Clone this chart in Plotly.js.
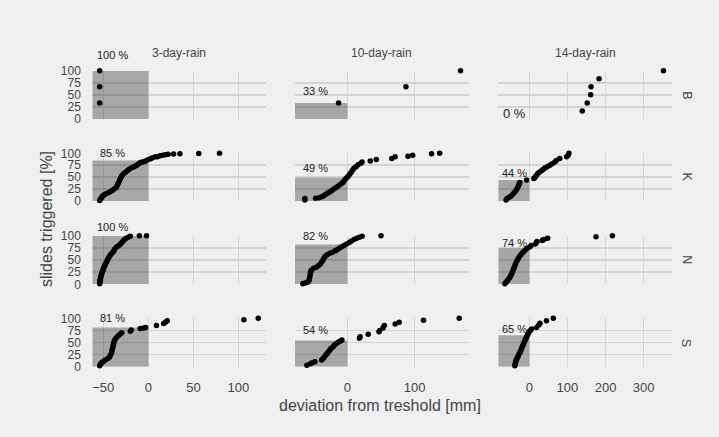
<!DOCTYPE html>
<html><head><meta charset="utf-8">
<script src="https://cdn.plot.ly/plotly-3.0.1.min.js"></script>
<style>html,body{margin:0;padding:0;background:#f0f0f0}</style>
</head><body><div id="chart" style="width:719px;height:437px"></div>
<script>
// ---- data ----
const colNames = ['3-day-rain', '10-day-rain', '14-day-rain'];
const rowNames = ['B', 'K', 'N', 'S'];
const pctTriggered = [[100, 33, 0], [85, 49, 44], [100, 82, 74], [81, 54, 65]];
const xTickStep = [50, 100, 100];
const yTicks = [0, 25, 50, 75, 100];

const B_3_x = [-54, -54, -54];
const B_3_y = [33.3, 66.7, 100];
const B_10_x = [-13, 87, 168];
const B_10_y = [33.3, 66.7, 100];
const B_14_x = [139, 152, 161, 162, 183, 352];
const B_14_y = [16.7, 33.3, 50, 66.7, 83.3, 100];

const K_3_x = [-54,-53,-52,-51,-49,-47,-44,-42,-40,-38,-36,-35,-34,-33,-32,-31,-30,-29,-27,-25,-23,-21,-18,-16,-14,-12,-10,-8,-6,-3,-1,2,4,7,10,13,16,19,22,28,35,56,79];
const K_3_y = [1,4,7,10,13,15,18,20,22,25,28,31,35,39,43,47,51,54,58,61,64,67,70,72,74,76,79,81,82,84,86,88,90,92,93,95,96,97,98,98.5,99,99.5,100];
const K_10_x = [-63,-63,-47,-42,-38,-35,-32,-29,-26,-23,-20,-17,-14,-11,-8,-6,-4,-2,0,2,4,6,8,10,13,16,20,22,34,43,66,71,90,97,125,137];
const K_10_y = [2,5,6,7,9,11,14,17,19,22,25,28,31,34,37,40,44,47,50,53,57,61,65,69,72,76,79,82,84,87,89,93,94,96,99,100];
const K_14_x = [-61,-58,-53,-47,-42,-38,-34,-31,-29,-27,-25,-7,12,14,17,20,23,27,31,36,41,47,54,60,67,71,80,98,102,104];
const K_14_y = [2,5,8,11,15,19,23,27,31,35,39,44,47,49,52,55,58,61,63,66,69,72,75,78,82,85,89,93,96,100];

const N_3_x = [-54,-54,-53.7,-53.4,-53,-52.6,-52.2,-51.7,-51.2,-50.6,-50,-49.4,-48.7,-48,-47.3,-46.5,-45.7,-44.8,-43.8,-42.8,-41.5,-40,-38.5,-37.5,-35.5,-33.5,-31.5,-30,-28.5,-27,-25,-22.5,-20,-10,-2];
const N_3_y = [1,4,7,10,13,16,19,22,25,28,31,34,37,40,43,46,49,52,55,58,62,65,68,72,76,79,82,85,88,91,94,97,99,100,100];
const N_10_x = [-66,-64,-61,-58,-56.5,-56,-55.5,-55,-54.5,-53.5,-50,-46,-43,-40,-38,-36,-34.5,-33,-30,-26,-22,-18,-15,-12,-9,-5,-1,3,6,10,14,18,22,50];
const N_10_y = [1,2,3,5,9,13,17,21,25,29,33,35,38,42,46,50,54,57,61,64,66,69,71,74,77,80,83,86,89,92,95,97,99,100];
const N_14_x = [-64,-61,-58,-55,-52,-49,-47,-45,-43,-41,-39,-37,-35,-32,-29,-26,-22,-18,-14,-10,-5,1,5,16,19,20,34,38,48,175,218];
const N_14_y = [1,4,7,10,13,17,20,24,28,32,36,40,44,49,53,57,61,65,68,71,74,77,80,83,86,88,90,92,95,98,100];

const S_3_x = [-54,-53,-52,-50,-48,-45,-43,-42,-41,-40.5,-40,-39.5,-39,-38.5,-38,-37,-35.5,-33.5,-31.5,-29.5,-20,-19,-9,-5,-3,9,17,19,21,106,122];
const S_3_y = [2,5,8,11,14,17,20,24,28,32,36,40,44,48,52,56,60,64,67,70,73,76,79,80,81,85,89,92,95,97,100];
const S_10_x = [-60,-55,-52,-48,-38,-36,-34,-32,-30,-28,-26,-24,-21,-19,-16,-13,-10,-8,18,19,31,47,48,53,55,71,77,113,166];
const S_10_y = [3,6,8,10,14,17,20,24,27,31,34,38,41,45,48,51,53,55,59,62,67,72,75,80,85,88,92,96,100];
const S_14_x = [-38,-37,-36,-35,-33,-31,-29,-27,-25,-23,-21,-19,-17,-15,-13,-11,-9,-7,-5,-3,0,3,6,19,25,28,45,63];
const S_14_y = [2,5,9,13,16,19,22,26,29,32,36,40,44,47,51,55,58,62,65,68,72,75,78,81,86,90,95,100];

const panelX = [[B_3_x, B_10_x, B_14_x], [K_3_x, K_10_x, K_14_x], [N_3_x, N_10_x, N_14_x], [S_3_x, S_10_x, S_14_x]];
const panelY = [[B_3_y, B_10_y, B_14_y], [K_3_y, K_10_y, K_14_y], [N_3_y, N_10_y, N_14_y], [S_3_y, S_10_y, S_14_y]];

// ---- layout settings (positions) ----
const W = 719, H = 437;
const colPx = [[92.3, 266], [295, 468.7], [498.3, 671.7]];
const rowPx = [[70.7, 119], [153.3, 201], [235.7, 284.3], [318.3, 366.7]];
const xRanges = [[-62.2, 130.6], [-77.6, 180.1], [-81.3, 373.6]];
const labelX = [-40, -47, -40];
const labelY = [[132, 58, 12], [100, 70, 58], [118, 100, 86], [100, 76, 78]];
const labelSize = [[11, 11, 13], [11, 11, 11], [11, 11, 11], [11, 11, 11]];

const FONT = 'Liberation Sans, Arial, sans-serif';
const gridCol = '#d4d4d4';
const traces = [];
const layout = {
  width: W, height: H,
  paper_bgcolor: '#f0f0f0', plot_bgcolor: '#f0f0f0',
  margin: {l: 0, r: 0, t: 0, b: 0},
  showlegend: false,
  font: {family: FONT, color: '#444'},
  shapes: [], annotations: []
};

function paperX(c, v) {
  const [a, b] = xRanges[c];
  const px = colPx[c][0] + (v - a) / (b - a) * (colPx[c][1] - colPx[c][0]);
  return px / W;
}
function paperY(r, v) {
  const px = rowPx[r][1] - v / 100 * (rowPx[r][1] - rowPx[r][0]);
  return 1 - px / H;
}

for (let r = 0; r < 4; r++) {
  for (let c = 0; c < 3; c++) {
    const n = r * 3 + c + 1;
    const xs = n === 1 ? '' : String(n);
    traces.push({
      type: 'scatter', mode: 'markers',
      x: panelX[r][c], y: panelY[r][c],
      xaxis: 'x' + xs, yaxis: 'y' + xs,
      marker: {color: '#000', size: 5.5},
      cliponaxis: false, hoverinfo: 'skip'
    });
    layout['xaxis' + xs] = {
      domain: [colPx[c][0] / W, colPx[c][1] / W],
      range: xRanges[c], tick0: 0, dtick: xTickStep[c],
      anchor: 'y' + xs,
      showgrid: true, gridcolor: gridCol, gridwidth: 1.5,
      zeroline: false, showline: false,
      showticklabels: r === 3,
      ticks: 'outside', ticklen: 9, tickcolor: 'rgba(0,0,0,0)',
      tickfont: {size: 13, color: '#444', family: FONT},
      fixedrange: true
    };
    layout['yaxis' + xs] = {
      domain: [1 - rowPx[r][1] / H, 1 - rowPx[r][0] / H],
      range: [0, 100], tickvals: yTicks,
      anchor: 'x' + xs,
      showgrid: true, gridcolor: gridCol, gridwidth: 1.5,
      zeroline: false, showline: false,
      showticklabels: c === 0,
      ticks: 'outside', ticklen: 8, tickcolor: 'rgba(0,0,0,0)',
      tickfont: {size: 12, color: '#444', family: FONT},
      fixedrange: true
    };
    if (pctTriggered[r][c] > 0) {
      layout.shapes.push({
        type: 'rect', xref: 'x' + xs, yref: 'y' + xs, layer: 'between',
        x0: xRanges[c][0], x1: 0, y0: 0, y1: pctTriggered[r][c],
        fillcolor: 'rgba(0,0,0,0.3)', line: {width: 0}
      });
    }
    layout.annotations.push({
      xref: 'paper', yref: 'paper',
      x: paperX(c, labelX[c]), y: paperY(r, labelY[r][c]),
      text: pctTriggered[r][c] + ' %', showarrow: false,
      xanchor: 'center', yanchor: 'middle',
      font: {size: labelSize[r][c], color: '#222', family: FONT}
    });
  }
}
// strip labels
for (let c = 0; c < 3; c++) {
  layout.annotations.push({
    xref: 'paper', yref: 'paper',
    x: (colPx[c][0] + colPx[c][1]) / 2 / W, y: 1 - 53 / H,
    text: colNames[c], showarrow: false, xanchor: 'center', yanchor: 'middle',
    font: {size: 12, color: '#444', family: FONT}
  });
}
for (let r = 0; r < 4; r++) {
  layout.annotations.push({
    xref: 'paper', yref: 'paper',
    x: 686.7 / W, y: 1 - (rowPx[r][0] + rowPx[r][1]) / 2 / H,
    text: rowNames[r], showarrow: false, textangle: 90,
    xanchor: 'center', yanchor: 'middle',
    font: {size: 12.5, color: '#444', family: FONT}
  });
}
// axis titles
layout.annotations.push({
  xref: 'paper', yref: 'paper', x: 380 / W, y: 1 - 405 / H,
  text: 'deviation from treshold [mm]', showarrow: false,
  xanchor: 'center', yanchor: 'middle',
  font: {size: 16, color: '#444', family: FONT}
});
layout.annotations.push({
  xref: 'paper', yref: 'paper', x: 46 / W, y: 1 - 219 / H,
  text: 'slides triggered [%]', showarrow: false, textangle: -90,
  xanchor: 'center', yanchor: 'middle',
  font: {size: 16, color: '#444', family: FONT}
});

Plotly.newPlot('chart', traces, layout, {staticPlot: true, displayModeBar: false});
</script>
</body></html>
